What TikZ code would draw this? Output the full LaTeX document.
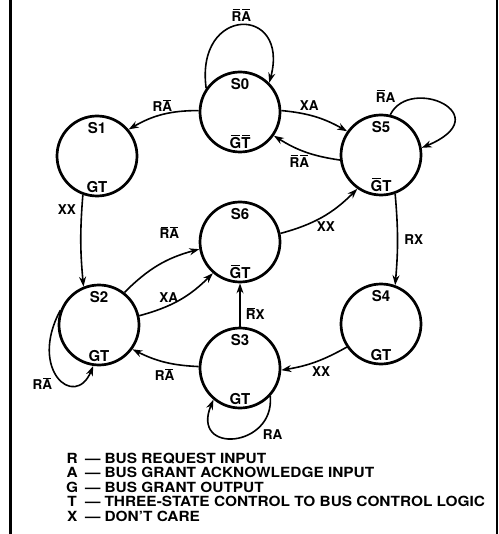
\documentclass[tikz,border=0pt]{standalone}
\usepackage{fontspec}
\setmainfont{TeX Gyre Heros}
\newfontfamily\keyfont{TeX Gyre Heros}[Ligatures=TeX,FakeStretch=1.1]
\usetikzlibrary{arrows.meta,positioning}

% bar over a single letter, a little narrower than the letter
\newcommand{\ovl}[1]{\leavevmode\setbox0\hbox{#1}%
    \rlap{\kern0.1\wd0\rule[1.12\ht0]{0.8\wd0}{0.9pt}}\box0}

\tikzset{
    state/.style={circle,draw,line width=2.7pt,minimum size=80pt,inner sep=0pt},
    sname/.style={anchor=base,inner sep=0pt,font=\fontsize{15}{18}\selectfont\bfseries},
    sout/.style={anchor=base,inner sep=0pt,font=\fontsize{15}{18}\selectfont\bfseries},
    trans/.style={line width=1.6pt,->},
    tlbl/.style={inner sep=2pt,font=\fontsize{13.5}{16}\selectfont\bfseries},
    keytext/.style={inner sep=0pt,font=\keyfont\fontsize{14}{14.25}\selectfont\bfseries}
}

\begin{document}
\begin{tikzpicture}[x=1pt,y=1pt,>={Stealth[length=10pt,width=7pt]}]

    \useasboundingbox (0,0) rectangle (498,-534);

    % FRAME
    \draw[line width=3pt] (10,0) -- (10,-534);
    \draw[line width=1.2pt] (497,0) -- (497,-534);

    % STATES
    \node[state] (s0) at (240,-112) {};
    \node[state] (s1) at (97,-156) {};
    \node[state] (s5) at (381,-155) {};
    \node[state] (s6) at (240,-242) {};
    \node[state] (s2) at (99,-325) {};
    \node[state] (s4) at (381,-324) {};
    \node[state] (s3) at (240,-368) {};

    \node[sname] (s0n) at ([yshift=-19pt]s0.north) {S0};
    \node[sname] (s1n) at ([yshift=-19pt]s1.north) {S1};
    \node[sname] (s5n) at ([yshift=-19pt]s5.north) {S5};
    \node[sname] (s6n) at ([yshift=-19pt]s6.north) {S6};
    \node[sname] (s2n) at ([yshift=-19pt]s2.north) {S2};
    \node[sname] (s4n) at ([yshift=-19pt]s4.north) {S4};
    \node[sname] (s3n) at ([yshift=-19pt]s3.north) {S3};

    \node[sout] (s0o) at ([yshift=5pt]s0.south) {\ovl{G}\ovl{T}};
    \node[sout] (s1o) at ([yshift=5pt]s1.south) {GT};
    \node[sout] (s5o) at ([yshift=5pt]s5.south) {\ovl{G}T};
    \node[sout] (s6o) at ([yshift=5pt]s6.south) {\ovl{G}T};
    \node[sout] (s2o) at ([yshift=5pt]s2.south) {GT};
    \node[sout] (s4o) at ([yshift=5pt]s4.south) {GT};
    \node[sout] (s3o) at ([yshift=5pt]s3.south) {GT};

    % TRANSITIONS, TOP
    \draw[trans] (s0.145) .. controls (195,-5) and (290,-5) .. (s0.45)
        node[tlbl,pos=0.5,above=1pt] (l00) {\ovl{R}\ovl{A}};
    \draw[trans] (s0.178) to[bend right=15] node[tlbl,above] (l01) {R\ovl{A}} (s1.40);
    \draw[trans] (s0.2) to[bend left=12] node[tlbl,pos=0.4,above=2pt] (l05) {XA} (s5.145);
    \draw[trans] (s5.187) to[bend left=12] node[tlbl,pos=0.6,below=3pt] (l50) {\ovl{R}\ovl{A}} (s0.-35);
    \draw[trans] (s5.77) .. controls (410,-75) and (500,-115) .. (s5.10)
        node[tlbl,pos=0.1,above left] (l55) {\ovl{R}A};

    % TRANSITIONS, SIDES
    \draw[trans] (s1.250) to[bend right=5] node[tlbl,pos=0.15,left=3pt] (l12) {XX} (s2.112);
    \draw[trans] (s5.290) to[bend left=5] node[tlbl,right=4pt] (l54) {RX} (s4.70);

    % TRANSITIONS, MIDDLE
    \draw[trans] (s6.12) to[bend right=15] node[tlbl,pos=0.55,below=4pt] (l65) {XX} (s5.235);
    \draw[trans] (s2.52) to[bend left=15] node[tlbl,pos=0.65,above=18pt] (l26a) {\ovl{R}\ovl{A}} (s6.190);
    \draw[trans] (s2.13) to[bend right=15] node[tlbl,pos=0.35,above] (l26b) {XA} (s6.229);
    \draw[trans] (s3) -- node[tlbl,pos=0.3,right=3pt] (l36) {\ovl{R}X} (s6);

    % TRANSITIONS, BOTTOM
    \draw[trans] (s3.178) to[bend left=12] node[tlbl,below=4pt] (l32) {R\ovl{A}} (s2.-36);
    \draw[trans] (s4.214) to[bend left=10] node[tlbl,pos=0.4,below=4pt] (l43) {XX} (s3.-3);
    \draw[trans] (s2.159) .. controls (28,-370) and (75,-410) .. (s2.262)
        node[tlbl,pos=0.45,below left=2pt and 0pt] (l22) {R\ovl{A}};
    \draw[trans] (s3.-43) .. controls (275,-448) and (190,-455) .. (s3.230)
        node[tlbl,pos=0.25,below right] (l33) {RA};

    % LEGEND
    \node[keytext,anchor=base west] (key) at (66,-463) {%
        \begin{tabular}[t]{@{}c@{\hspace{7pt}}l@{\hspace{4pt}}l@{}}
            R & --- & BUS REQUEST INPUT\\
            A & --- & BUS GRANT ACKNOWLEDGE INPUT\\
            G & --- & BUS GRANT OUTPUT\\
            T & --- & THREE-STATE CONTROL TO BUS CONTROL LOGIC\\
            X & --- & DON'T CARE
        \end{tabular}};

\end{tikzpicture}
\end{document}
